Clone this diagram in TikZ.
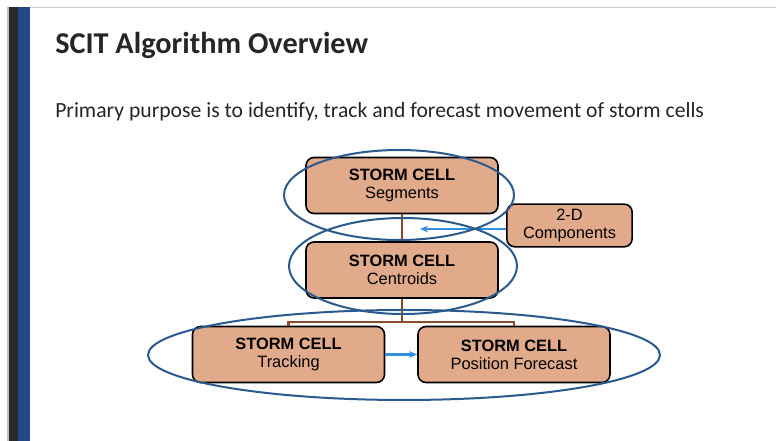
\documentclass[tikz,border=0pt]{standalone}
\usepackage{fontspec}
\setmainfont{Carlito}
\newfontfamily\arialf{Liberation Sans}
\usetikzlibrary{arrows.meta}
\definecolor{boxfill}{HTML}{E1AB8B}
\definecolor{ellblue}{HTML}{2B5A8E}
\definecolor{brownln}{HTML}{8A4B2C}
\definecolor{arrblue}{HTML}{2E90DE}
\definecolor{barblue}{HTML}{1F4A85}
\definecolor{bardark}{HTML}{2A2A2A}
\begin{document}
\begin{tikzpicture}[x=0.75pt,y=-0.75pt,
  stepbox/.style={draw=black,line width=1.2pt,fill=boxfill,rounded corners=6pt,
    minimum width=144pt,minimum height=42pt,align=center,inner sep=0pt,
    font=\arialf\fontsize{12.3}{13.6}\selectfont},
  smallbox/.style={stepbox,minimum width=94pt,minimum height=32pt},
  ring/.style={draw=ellblue,line width=1.5pt},
  brln/.style={draw=brownln,line width=2pt},
  blarr/.style={draw=arrblue,line width=1.6pt,-{Stealth[length=6pt,width=5pt]}}]
\useasboundingbox (0,0) rectangle (776,441);
\fill[white] (0,0) rectangle (776,441);
% slide frame
\draw[gray!40,line width=1pt] (8,7.5) -- (776,7.5);
\fill[gray!50] (7,7) rectangle (8.5,441);
\fill[bardark] (8.5,7) rectangle (18,441);
\fill[barblue] (18,7) rectangle (30,441);
% texts
\node[anchor=base west,inner sep=0pt,font=\bfseries\fontsize{22.7}{26}\selectfont,text=black!85] (title) at (55,54) {SCIT Algorithm Overview};
\node[anchor=base west,inner sep=0pt,font=\fontsize{16.25}{20}\selectfont,text=black!85] (sub) at (55,118) {Primary purpose is to identify, track and forecast movement of storm cells};
% boxes
\node[stepbox] (seg) at (402,185.5) {\textbf{STORM CELL}\\Segments};
\node[stepbox] (cen) at (402,270) {\textbf{STORM CELL}\\Centroids};
\node[smallbox] (comp) at (569.5,225.5) {2-D\\Components};
\node[stepbox] (trk) at (288.5,354.5) {\textbf{STORM CELL}\\Tracking};
\node[stepbox] (pos) at (514,354.5) {\textbf{STORM CELL}\\Position Forecast};
% connectors
\draw[brln] (seg.south) -- (cen.north);
\coordinate (br) at (402,322);
\draw[brln] (cen.south) -- (br);
\draw[brln] (trk.north) -- (trk.north |- br) -- (pos.north |- br) -- (pos.north);
\coordinate (segarr) at (420,229);
\draw[blarr] (comp.west |- segarr) -- (segarr);
\draw[blarr] (trk.east) -- (pos.west);
% ellipses
\draw[ring] (399,195) ellipse [x radius=115, y radius=45];
\draw[ring] (403,266) ellipse [x radius=114, y radius=48];
\draw[ring] (404,355) ellipse [x radius=256, y radius=45];
\end{tikzpicture}
\end{document}
